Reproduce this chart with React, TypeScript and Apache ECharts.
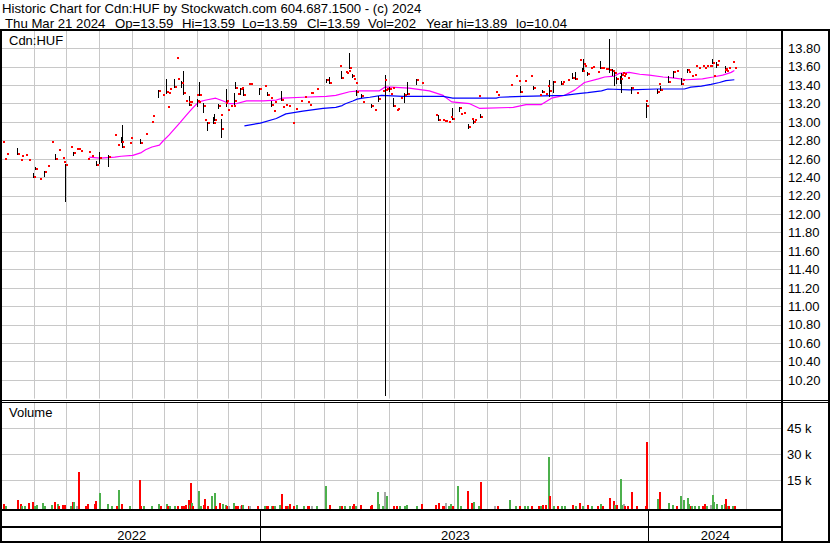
import React, { useEffect, useRef } from "react";
import * as echarts from "echarts";

// ---------------- data ----------------
const titleLine = "Historic Chart for Cdn:HUF by Stockwatch.com 604.687.1500 - (c) 2024";
const quoteItems = ["Thu Mar 21 2024", "Op=13.59", "Hi=13.59", "Lo=13.59", "Cl=13.59", "Vol=202", "Year hi=13.89", "lo=10.04"];
const symbolLabel = "Cdn:HUF";
const volumeLabel = "Volume";

const priceMin = 10;
const priceMax = 14;
const priceStep = 0.2;
const volMax = 60000;
const volStep = 15000;

const axisStart = "2022-05-01T21:36:00Z";
const axisEnd = "2024-05-03T21:36:00Z";

const monthLines = [
  "2022-06-01", "2022-07-01", "2022-08-01", "2022-09-01", "2022-10-01", "2022-11-01", "2022-12-01",
  "2023-01-01", "2023-02-01", "2023-03-01", "2023-04-01", "2023-05-01", "2023-06-01", "2023-07-01",
  "2023-08-01", "2023-09-01", "2023-10-01", "2023-11-01", "2023-12-01", "2024-01-01", "2024-02-01",
  "2024-03-01", "2024-04-01",
];

const yearSpans: [string, string, string][] = [
  ["2022", "2022-01-01", "2023-01-01"],
  ["2023", "2023-01-01", "2024-01-01"],
  ["2024", "2024-01-01", "2025-01-01"],
];

// close of each trading day
const closePrices: [string, number][] = [
  ["2022-05-02", 12.78], ["2022-05-04", 12.6], ["2022-05-06", 12.65], ["2022-05-16", 12.65], ["2022-05-19", 12.59],
  ["2022-05-20", 12.63], ["2022-05-24", 12.64], ["2022-05-26", 12.59], ["2022-05-31", 12.41], ["2022-06-02", 12.49],
  ["2022-06-06", 12.38], ["2022-06-10", 12.46], ["2022-06-13", 12.52], ["2022-06-17", 12.78], ["2022-06-21", 12.6],
  ["2022-06-24", 12.7], ["2022-06-27", 12.61], ["2022-06-28", 12.57], ["2022-06-30", 12.53], ["2022-07-05", 12.73],
  ["2022-07-08", 12.67], ["2022-07-11", 12.71], ["2022-07-12", 12.71], ["2022-07-14", 12.69], ["2022-07-21", 12.6],
  ["2022-07-22", 12.68], ["2022-07-25", 12.63], ["2022-07-29", 12.53], ["2022-08-01", 12.61], ["2022-08-10", 12.62],
  ["2022-08-15", 12.86], ["2022-08-18", 12.75], ["2022-08-22", 12.78], ["2022-08-23", 12.73], ["2022-08-29", 12.77],
  ["2022-08-30", 12.83], ["2022-09-09", 12.77], ["2022-09-13", 12.87], ["2022-09-19", 13.0], ["2022-09-20", 13.07],
  ["2022-09-26", 13.34], ["2022-09-29", 13.3], ["2022-10-03", 13.33], ["2022-10-04", 13.16], ["2022-10-05", 13.32],
  ["2022-10-06", 13.36], ["2022-10-11", 13.38], ["2022-10-13", 13.7], ["2022-10-14", 13.47], ["2022-10-17", 13.42],
  ["2022-10-19", 13.32], ["2022-10-21", 13.23], ["2022-10-24", 13.22], ["2022-10-25", 13.19], ["2022-10-26", 13.22],
  ["2022-10-31", 13.29], ["2022-11-01", 13.23], ["2022-11-02", 13.22], ["2022-11-03", 13.3], ["2022-11-07", 13.17],
  ["2022-11-08", 13.02], ["2022-11-11", 12.99], ["2022-11-16", 12.99], ["2022-11-17", 13.02], ["2022-11-21", 13.18],
  ["2022-11-23", 13.08], ["2022-11-24", 12.93], ["2022-11-28", 13.21], ["2022-11-29", 13.23], ["2022-11-30", 13.13],
  ["2022-12-02", 13.17], ["2022-12-05", 13.17], ["2022-12-06", 13.23], ["2022-12-07", 13.37], ["2022-12-09", 13.31],
  ["2022-12-12", 13.36], ["2022-12-13", 13.37], ["2022-12-15", 13.3], ["2022-12-19", 13.41], ["2022-12-21", 13.41],
  ["2022-12-30", 13.36],
  ["2023-01-03", 13.39], ["2023-01-06", 13.29], ["2023-01-09", 13.26], ["2023-01-10", 13.19], ["2023-01-12", 13.12],
  ["2023-01-13", 13.22], ["2023-01-19", 13.24], ["2023-01-20", 13.16], ["2023-01-23", 13.19], ["2023-01-26", 13.18],
  ["2023-01-30", 12.99], ["2023-02-02", 13.14], ["2023-02-06", 13.23], ["2023-02-10", 13.27], ["2023-02-13", 13.22],
  ["2023-02-15", 13.19], ["2023-02-16", 13.32], ["2023-02-17", 13.32], ["2023-02-21", 13.36], ["2023-03-03", 13.46],
  ["2023-03-06", 13.43], ["2023-03-15", 13.61], ["2023-03-17", 13.48], ["2023-03-21", 13.54], ["2023-03-22", 13.53],
  ["2023-03-23", 13.56], ["2023-03-24", 13.59], ["2023-03-27", 13.5], ["2023-03-28", 13.47], ["2023-03-30", 13.42],
  ["2023-03-31", 13.33], ["2023-04-05", 13.28], ["2023-04-06", 13.22], ["2023-04-14", 13.18], ["2023-04-17", 13.13],
  ["2023-04-21", 13.25], ["2023-04-24", 13.34], ["2023-04-26", 13.46], ["2023-04-27", 13.35], ["2023-04-28", 13.36],
  ["2023-05-01", 13.36], ["2023-05-02", 13.31], ["2023-05-04", 13.37], ["2023-05-05", 13.17], ["2023-05-08", 13.13],
  ["2023-05-09", 13.14], ["2023-05-11", 13.26], ["2023-05-15", 13.29], ["2023-05-18", 13.31], ["2023-05-26", 13.46],
  ["2023-05-31", 13.43], ["2023-06-13", 13.08], ["2023-06-16", 13.02], ["2023-06-20", 13.02], ["2023-06-22", 13.01],
  ["2023-06-23", 13.01], ["2023-06-26", 13.0], ["2023-06-27", 13.06], ["2023-06-29", 13.03], ["2023-07-06", 13.15],
  ["2023-07-07", 13.09], ["2023-07-10", 13.1], ["2023-07-14", 12.95], ["2023-07-17", 13.03], ["2023-07-19", 13.0],
  ["2023-07-20", 13.02], ["2023-07-24", 13.28], ["2023-07-26", 13.06], ["2023-08-09", 13.33], ["2023-08-11", 13.29],
  ["2023-08-23", 13.4], ["2023-08-28", 13.5], ["2023-08-30", 13.45], ["2023-09-01", 13.33], ["2023-09-05", 13.45],
  ["2023-09-11", 13.5], ["2023-09-14", 13.37], ["2023-09-19", 13.3], ["2023-09-22", 13.33], ["2023-09-25", 13.31],
  ["2023-09-27", 13.39], ["2023-09-29", 13.34], ["2023-10-02", 13.44], ["2023-10-10", 13.41], ["2023-10-11", 13.44],
  ["2023-10-16", 13.46], ["2023-10-20", 13.48], ["2023-10-23", 13.47], ["2023-10-27", 13.67], ["2023-10-30", 13.56],
  ["2023-10-31", 13.63], ["2023-11-01", 13.61], ["2023-11-03", 13.52], ["2023-11-06", 13.59], ["2023-11-08", 13.6],
  ["2023-11-13", 13.54], ["2023-11-16", 13.59], ["2023-11-17", 13.59], ["2023-11-20", 13.58], ["2023-11-21", 13.58],
  ["2023-11-24", 13.57], ["2023-11-27", 13.55], ["2023-11-29", 13.53], ["2023-12-01", 13.47], ["2023-12-04", 13.47],
  ["2023-12-05", 13.51], ["2023-12-06", 13.53], ["2023-12-07", 13.5], ["2023-12-08", 13.52], ["2023-12-11", 13.48],
  ["2023-12-15", 13.37], ["2023-12-19", 13.32], ["2023-12-28", 13.23], ["2023-12-29", 13.18],
  ["2024-01-08", 13.33], ["2024-01-09", 13.41], ["2024-01-11", 13.35], ["2024-01-19", 13.44], ["2024-01-23", 13.54],
  ["2024-01-26", 13.55], ["2024-01-31", 13.41], ["2024-02-01", 13.46], ["2024-02-05", 13.57], ["2024-02-06", 13.54],
  ["2024-02-09", 13.5], ["2024-02-12", 13.51], ["2024-02-13", 13.61], ["2024-02-16", 13.59], ["2024-02-20", 13.61],
  ["2024-02-21", 13.59], ["2024-02-23", 13.61], ["2024-02-26", 13.61], ["2024-02-27", 13.61], ["2024-02-29", 13.64],
  ["2024-03-01", 13.5], ["2024-03-04", 13.62], ["2024-03-05", 13.66], ["2024-03-11", 13.57], ["2024-03-12", 13.58],
  ["2024-03-13", 13.55], ["2024-03-15", 13.59], ["2024-03-19", 13.65], ["2024-03-21", 13.59],
];

// high / low of the days that traded at more than one price
const tradingRanges: [string, number, number][] = [
  ["2022-05-16", 12.71, 12.65], ["2022-05-31", 12.44, 12.4], ["2022-06-02", 12.5, 12.49], ["2022-06-10", 12.46, 12.42],
  ["2022-06-21", 12.64, 12.6], ["2022-06-30", 12.54, 12.14], ["2022-07-08", 12.67, 12.64], ["2022-07-29", 12.57, 12.53],
  ["2022-08-01", 12.66, 12.56], ["2022-08-10", 12.63, 12.52], ["2022-08-22", 12.83, 12.78], ["2022-08-23", 12.96, 12.73],
  ["2022-09-09", 12.81, 12.77], ["2022-09-26", 13.34, 13.27], ["2022-10-03", 13.46, 13.32], ["2022-10-11", 13.46, 13.38],
  ["2022-10-17", 13.44, 13.38], ["2022-10-19", 13.54, 13.31], ["2022-10-25", 13.27, 13.19], ["2022-11-01", 13.24, 13.18],
  ["2022-11-03", 13.43, 13.29], ["2022-11-07", 13.2, 13.11], ["2022-11-11", 12.99, 12.92], ["2022-11-16", 13.04, 12.99],
  ["2022-11-17", 13.08, 13.02], ["2022-11-21", 13.19, 13.15], ["2022-11-24", 13.02, 12.84], ["2022-11-29", 13.35, 13.17],
  ["2022-12-06", 13.31, 13.2], ["2022-12-07", 13.43, 13.37], ["2022-12-12", 13.36, 13.31], ["2022-12-15", 13.37, 13.29],
  ["2022-12-30", 13.36, 13.31], ["2023-01-06", 13.32, 13.29], ["2023-01-10", 13.22, 13.17], ["2023-01-19", 13.33, 13.24],
  ["2023-03-03", 13.46, 13.44], ["2023-03-06", 13.48, 13.42], ["2023-03-17", 13.54, 13.48], ["2023-03-24", 13.74, 13.59],
  ["2023-03-27", 13.51, 13.49], ["2023-03-31", 13.34, 13.29], ["2023-04-05", 13.29, 13.27], ["2023-04-14", 13.19, 13.16],
  ["2023-04-21", 13.27, 13.23], ["2023-04-27", 13.5, 10.04], ["2023-05-01", 13.37, 13.34], ["2023-05-05", 13.25, 13.17],
  ["2023-05-15", 13.31, 13.22], ["2023-05-18", 13.42, 13.31], ["2023-05-26", 13.46, 13.41], ["2023-06-16", 13.07, 13.02],
  ["2023-06-29", 13.14, 13.03], ["2023-07-06", 13.15, 13.12], ["2023-07-14", 12.97, 12.94], ["2023-07-19", 13.03, 12.99],
  ["2023-07-26", 13.08, 13.06], ["2023-09-01", 13.38, 13.33], ["2023-09-14", 13.38, 13.36], ["2023-09-22", 13.34, 13.33],
  ["2023-09-29", 13.45, 13.28], ["2023-10-02", 13.44, 13.33], ["2023-10-10", 13.44, 13.41], ["2023-10-20", 13.52, 13.48],
  ["2023-10-23", 13.53, 13.47], ["2023-10-30", 13.58, 13.56], ["2023-10-31", 13.67, 13.58], ["2023-11-03", 13.53, 13.51],
  ["2023-11-16", 13.65, 13.59], ["2023-11-24", 13.89, 13.54], ["2023-11-27", 13.57, 13.51], ["2023-11-29", 13.54, 13.4],
  ["2023-12-01", 13.48, 13.43], ["2023-12-04", 13.49, 13.42], ["2023-12-05", 13.52, 13.33], ["2023-12-15", 13.37, 13.32],
  ["2023-12-29", 13.2, 13.06], ["2024-01-08", 13.35, 13.32], ["2024-01-11", 13.38, 13.35], ["2024-01-19", 13.49, 13.44],
  ["2024-01-23", 13.54, 13.49], ["2024-01-31", 13.47, 13.41], ["2024-02-05", 13.57, 13.54], ["2024-02-29", 13.67, 13.64],
  ["2024-03-04", 13.64, 13.6], ["2024-03-12", 13.6, 13.54],
];

// short moving average (magenta)
const maShort: [string, number][] = [
  ["2022-07-23", 12.62], ["2022-08-02", 12.61], ["2022-08-16", 12.62], ["2022-08-22", 12.63], ["2022-09-02", 12.64],
  ["2022-09-10", 12.67], ["2022-09-14", 12.7], ["2022-09-20", 12.73], ["2022-09-27", 12.75], ["2022-09-30", 12.79],
  ["2022-10-06", 12.86], ["2022-10-16", 12.99], ["2022-10-22", 13.07], ["2022-10-28", 13.15], ["2022-11-03", 13.22],
  ["2022-11-10", 13.24], ["2022-11-19", 13.26], ["2022-11-26", 13.23], ["2022-12-02", 13.2], ["2022-12-08", 13.2],
  ["2022-12-18", 13.23], ["2023-01-03", 13.23], ["2023-01-15", 13.24], ["2023-01-21", 13.26], ["2023-02-09", 13.27],
  ["2023-03-03", 13.28], ["2023-03-12", 13.29], ["2023-03-25", 13.33], ["2023-04-03", 13.34], ["2023-04-22", 13.34],
  ["2023-04-27", 13.38], ["2023-05-03", 13.38], ["2023-05-20", 13.37], ["2023-06-08", 13.34], ["2023-06-21", 13.29],
  ["2023-06-29", 13.22], ["2023-07-16", 13.2], ["2023-07-25", 13.15], ["2023-08-26", 13.16], ["2023-09-07", 13.19],
  ["2023-09-21", 13.19], ["2023-10-01", 13.26], ["2023-10-13", 13.29], ["2023-10-23", 13.35], ["2023-11-01", 13.43],
  ["2023-11-14", 13.47], ["2023-11-20", 13.49], ["2023-11-29", 13.5], ["2023-12-04", 13.53], ["2023-12-13", 13.54],
  ["2023-12-23", 13.52], ["2024-01-01", 13.51], ["2024-01-14", 13.49], ["2024-01-23", 13.48], ["2024-02-05", 13.46],
  ["2024-02-20", 13.47], ["2024-03-01", 13.49], ["2024-03-10", 13.51], ["2024-03-18", 13.54], ["2024-03-21", 13.56],
];

// long moving average (blue)
const maLong: [string, number][] = [
  ["2022-12-16", 12.96], ["2022-12-31", 12.99], ["2023-01-15", 13.04], ["2023-01-24", 13.09], ["2023-02-09", 13.12],
  ["2023-02-28", 13.15], ["2023-03-12", 13.16], ["2023-03-18", 13.18], ["2023-03-21", 13.2], ["2023-03-28", 13.23],
  ["2023-04-01", 13.25], ["2023-04-06", 13.26], ["2023-04-13", 13.27], ["2023-04-24", 13.29], ["2023-05-14", 13.28],
  ["2023-06-21", 13.28], ["2023-06-30", 13.26], ["2023-08-10", 13.26], ["2023-08-13", 13.27], ["2023-09-04", 13.28],
  ["2023-10-13", 13.29], ["2023-10-26", 13.31], ["2023-11-04", 13.32], ["2023-11-17", 13.34], ["2023-11-23", 13.36],
  ["2023-12-13", 13.35], ["2024-01-08", 13.36], ["2024-02-03", 13.36], ["2024-02-09", 13.38], ["2024-02-19", 13.39],
  ["2024-02-28", 13.41], ["2024-03-07", 13.43], ["2024-03-13", 13.45], ["2024-03-21", 13.46],
];

// daily volume: u = up day, d = down day, n = unchanged
const volumeBars: [string, number, string][] = [
  ["2022-05-03", 1300, "d"], ["2022-05-05", 200, "u"], ["2022-05-16", 3600, "d"], ["2022-05-19", 1300, "d"],
  ["2022-05-20", 200, "u"], ["2022-05-23", 200, "u"], ["2022-05-26", 2100, "d"], ["2022-05-30", 2500, "d"],
  ["2022-06-01", 300, "u"], ["2022-06-03", 600, "u"], ["2022-06-09", 1900, "u"], ["2022-06-10", 300, "u"],
  ["2022-06-17", 1000, "u"], ["2022-06-20", 2700, "d"], ["2022-06-23", 1300, "u"], ["2022-06-24", 300, "d"],
  ["2022-06-27", 1000, "d"], ["2022-06-29", 1000, "d"], ["2022-07-05", 200, "u"], ["2022-07-07", 2500, "d"],
  ["2022-07-08", 2500, "u"], ["2022-07-11", 300, "n"], ["2022-07-12", 19800, "d"], ["2022-07-19", 300, "d"],
  ["2022-07-21", 1300, "d"], ["2022-07-27", 1300, "d"], ["2022-07-28", 3000, "d"], ["2022-08-01", 7700, "u"],
  ["2022-08-09", 1500, "u"], ["2022-08-12", 200, "u"], ["2022-08-17", 200, "d"], ["2022-08-19", 9400, "u"],
  ["2022-08-22", 1300, "d"], ["2022-08-29", 300, "u"], ["2022-09-08", 15200, "d"], ["2022-09-09", 400, "d"],
  ["2022-09-12", 300, "u"], ["2022-09-19", 200, "u"], ["2022-09-26", 1300, "u"], ["2022-09-28", 200, "d"],
  ["2022-10-03", 1500, "u"], ["2022-10-04", 200, "d"], ["2022-10-06", 300, "u"], ["2022-10-11", 300, "u"],
  ["2022-10-14", 200, "d"], ["2022-10-17", 200, "d"], ["2022-10-18", 300, "d"], ["2022-10-20", 400, "d"],
  ["2022-10-21", 800, "d"], ["2022-10-24", 3600, "d"], ["2022-10-25", 800, "u"], ["2022-10-26", 13400, "d"],
  ["2022-10-27", 1900, "u"], ["2022-10-28", 400, "d"], ["2022-11-02", 8800, "u"], ["2022-11-04", 300, "u"],
  ["2022-11-07", 800, "d"], ["2022-11-08", 4200, "d"], ["2022-11-11", 300, "d"], ["2022-11-15", 5900, "u"],
  ["2022-11-17", 7700, "u"], ["2022-11-18", 400, "d"], ["2022-11-22", 1900, "d"], ["2022-11-25", 1300, "u"],
  ["2022-11-28", 800, "u"], ["2022-11-29", 400, "d"], ["2022-12-01", 300, "n"], ["2022-12-05", 1900, "u"],
  ["2022-12-06", 400, "u"], ["2022-12-07", 400, "d"], ["2022-12-09", 400, "d"], ["2022-12-12", 300, "n"],
  ["2022-12-13", 800, "d"], ["2022-12-14", 800, "u"], ["2022-12-19", 400, "d"], ["2022-12-20", 200, "n"],
  ["2022-12-28", 200, "d"], ["2023-01-03", 200, "u"], ["2023-01-05", 300, "d"], ["2023-01-06", 300, "d"],
  ["2023-01-10", 300, "u"], ["2023-01-11", 200, "d"], ["2023-01-13", 200, "u"], ["2023-01-18", 800, "u"],
  ["2023-01-19", 7100, "d"], ["2023-01-23", 400, "d"], ["2023-01-24", 400, "d"], ["2023-01-26", 300, "u"],
  ["2023-01-27", 1300, "d"], ["2023-01-31", 200, "d"], ["2023-02-03", 800, "u"], ["2023-02-09", 200, "u"],
  ["2023-02-13", 200, "d"], ["2023-02-14", 200, "d"], ["2023-02-17", 200, "n"], ["2023-02-21", 200, "u"],
  ["2023-03-02", 11700, "u"], ["2023-03-06", 800, "d"], ["2023-03-15", 400, "u"], ["2023-03-17", 300, "d"],
  ["2023-03-20", 400, "u"], ["2023-03-24", 300, "u"], ["2023-03-27", 300, "d"], ["2023-03-28", 1300, "d"],
  ["2023-03-30", 200, "u"], ["2023-04-04", 800, "d"], ["2023-04-13", 300, "d"], ["2023-04-14", 800, "d"],
  ["2023-04-20", 8200, "u"], ["2023-04-21", 1300, "u"], ["2023-04-24", 200, "u"], ["2023-04-26", 8200, "n"],
  ["2023-04-28", 5900, "u"], ["2023-05-05", 300, "d"], ["2023-05-08", 200, "d"], ["2023-05-10", 200, "u"],
  ["2023-05-15", 300, "u"], ["2023-05-17", 800, "u"], ["2023-05-26", 400, "u"], ["2023-05-31", 1300, "d"],
  ["2023-06-13", 800, "d"], ["2023-06-16", 1900, "d"], ["2023-06-20", 200, "d"], ["2023-06-22", 300, "d"],
  ["2023-06-23", 1900, "n"], ["2023-06-26", 300, "u"], ["2023-06-27", 1300, "u"], ["2023-06-29", 400, "d"],
  ["2023-07-04", 11700, "u"], ["2023-07-07", 200, "u"], ["2023-07-13", 8800, "d"], ["2023-07-17", 1900, "d"],
  ["2023-07-19", 2500, "u"], ["2023-07-24", 200, "u"], ["2023-07-26", 14000, "d"], ["2023-08-08", 200, "n"],
  ["2023-08-11", 400, "d"], ["2023-08-22", 3600, "u"], ["2023-08-28", 300, "u"], ["2023-08-31", 300, "d"],
  ["2023-09-05", 200, "u"], ["2023-09-08", 200, "u"], ["2023-09-12", 300, "d"], ["2023-09-18", 200, "d"],
  ["2023-09-20", 300, "u"], ["2023-09-22", 600, "d"], ["2023-09-25", 1000, "d"], ["2023-09-28", 28500, "u"],
  ["2023-09-29", 5900, "d"], ["2023-10-02", 300, "u"], ["2023-10-06", 300, "d"], ["2023-10-10", 300, "u"],
  ["2023-10-13", 300, "u"], ["2023-10-20", 600, "d"], ["2023-10-23", 300, "u"], ["2023-10-27", 1900, "d"],
  ["2023-10-30", 300, "u"], ["2023-11-03", 600, "d"], ["2023-11-07", 300, "u"], ["2023-11-13", 200, "d"],
  ["2023-11-16", 1300, "u"], ["2023-11-17", 200, "d"], ["2023-11-24", 4800, "d"], ["2023-11-28", 3000, "d"],
  ["2023-11-29", 1000, "u"], ["2023-12-01", 1000, "d"], ["2023-12-04", 15800, "u"], ["2023-12-05", 1000, "u"],
  ["2023-12-07", 1300, "n"], ["2023-12-08", 200, "d"], ["2023-12-11", 200, "d"], ["2023-12-15", 8200, "d"],
  ["2023-12-19", 300, "d"], ["2023-12-28", 300, "d"], ["2023-12-29", 37000, "d"], ["2024-01-08", 4200, "u"],
  ["2024-01-10", 8200, "d"], ["2024-01-19", 1900, "u"], ["2024-01-22", 1000, "u"], ["2024-01-26", 300, "d"],
  ["2024-01-30", 5900, "u"], ["2024-02-02", 3600, "u"], ["2024-02-05", 4800, "u"], ["2024-02-06", 1300, "u"],
  ["2024-02-08", 300, "d"], ["2024-02-09", 200, "u"], ["2024-02-12", 200, "u"], ["2024-02-16", 300, "u"],
  ["2024-02-20", 200, "d"], ["2024-02-21", 1300, "d"], ["2024-02-23", 300, "u"], ["2024-02-27", 1000, "n"],
  ["2024-02-29", 6500, "u"], ["2024-03-01", 2500, "u"], ["2024-03-04", 1300, "u"], ["2024-03-08", 1000, "u"],
  ["2024-03-11", 1300, "u"], ["2024-03-12", 4200, "d"], ["2024-03-14", 200, "u"], ["2024-03-15", 200, "d"],
  ["2024-03-19", 200, "u"], ["2024-03-21", 202, "d"],
];

// ---------------- styling ----------------
const FONT = '"Liberation Sans", Arial, Helvetica, sans-serif';
const GRID_GRAY = "#c8c8c8";
const RED = "#ff0000";
const GREEN = "#4cb04c";
const GRAY = "#a8a8a8";
const quoteX = [5, 115, 182, 242, 307, 368, 426, 516];

const ts = (s: string) => Date.parse(s.length === 10 ? s + "T00:00:00Z" : s);
const AXIS_MIN = ts(axisStart);
const AXIS_MAX = ts(axisEnd);

function makeGridLineRender(extraBottom: number) {
  return (params: any, api: any) => {
    const cs = params.coordSys;
    const x = Math.round(api.coord([api.value(0), api.value(1)])[0]) + 0.5;
    return {
      type: "line",
      shape: { x1: x, y1: cs.y, x2: x, y2: cs.y + cs.height + extraBottom },
      style: { stroke: GRID_GRAY, lineWidth: 1 },
    };
  };
}

function rectEl(x: number, y: number, w: number, h: number) {
  return { type: "rect", z: 100, silent: true, shape: { x, y, width: w, height: h }, style: { fill: "#000" } };
}

function textEl(text: string, x: number, y: number, size = 13) {
  return {
    type: "text",
    z: 101,
    silent: true,
    x,
    y,
    style: { text, font: `${size}px ${FONT}`, fill: "#000", align: "left", verticalAlign: "middle" },
  };
}

export default function App() {
  const ref = useRef<HTMLDivElement>(null);

  useEffect(() => {
    const chart = echarts.init(ref.current!, null, { renderer: "svg" });

    const timeAxis = (gridIndex: number) => ({
      type: "time",
      gridIndex,
      min: AXIS_MIN,
      max: AXIS_MAX,
      show: false,
    });

    const option: any = {
      animation: false,
      useUTC: true,
      backgroundColor: "#ffffff",
      grid: [
        { left: 2, top: 30, width: 779, height: 368.6 },
        { left: 2, top: 402.3, width: 779, height: 104 },
        { left: 2, top: 511, width: 779, height: 30 },
      ],
      xAxis: [timeAxis(0), timeAxis(1), timeAxis(2)],
      yAxis: [
        {
          type: "value",
          gridIndex: 0,
          position: "right",
          min: priceMin,
          max: priceMax,
          interval: priceStep,
          axisLine: { show: false },
          axisTick: { show: false },
          axisLabel: {
            margin: 7,
            fontSize: 13,
            fontFamily: FONT,
            color: "#000",
            showMinLabel: false,
            showMaxLabel: false,
            formatter: (v: number) => v.toFixed(2),
          },
          splitLine: { show: true, showMinLine: false, showMaxLine: false, lineStyle: { color: GRID_GRAY, width: 1 } },
        },
        {
          type: "value",
          gridIndex: 1,
          position: "right",
          min: 0,
          max: volMax,
          interval: volStep,
          axisLine: { show: false },
          axisTick: { show: false },
          axisLabel: {
            margin: 6,
            fontSize: 13,
            fontFamily: FONT,
            color: "#000",
            showMinLabel: false,
            showMaxLabel: false,
            formatter: (v: number) => `${Math.round(v / 1000)} k`,
          },
          splitLine: { show: true, showMinLine: false, showMaxLine: false, lineStyle: { color: GRID_GRAY, width: 1 } },
        },
        { type: "value", gridIndex: 2, min: 0, max: 1, show: false },
      ],
      series: [
        {
          type: "custom",
          name: "priceMonths",
          xAxisIndex: 0,
          yAxisIndex: 0,
          z: 1,
          silent: true,
          data: monthLines.map((d) => [ts(d), priceMin]),
          renderItem: makeGridLineRender(0),
        },
        {
          type: "custom",
          name: "volumeMonths",
          xAxisIndex: 1,
          yAxisIndex: 1,
          z: 1,
          silent: true,
          data: monthLines.map((d) => [ts(d), 0]),
          renderItem: makeGridLineRender(3),
        },
        {
          type: "line",
          name: "maShort",
          xAxisIndex: 0,
          yAxisIndex: 0,
          z: 2,
          silent: true,
          symbol: "none",
          showSymbol: false,
          data: maShort.map(([d, v]) => [ts(d), v]),
          lineStyle: { color: "#ff00ff", width: 1.2 },
        },
        {
          type: "line",
          name: "maLong",
          xAxisIndex: 0,
          yAxisIndex: 0,
          z: 2,
          silent: true,
          symbol: "none",
          showSymbol: false,
          data: maLong.map(([d, v]) => [ts(d), v]),
          lineStyle: { color: "#0000ff", width: 1.2 },
        },
        {
          type: "custom",
          name: "ranges",
          xAxisIndex: 0,
          yAxisIndex: 0,
          z: 3,
          silent: true,
          data: tradingRanges.map(([d, h, l]) => [ts(d), h, l]),
          renderItem: (params: any, api: any) => {
            const top = api.coord([api.value(0), api.value(1)]);
            const bot = api.coord([api.value(0), api.value(2)]);
            const x = Math.round(top[0]);
            const y1 = Math.round(top[1]) - 1;
            const y2 = Math.round(bot[1]) + 1;
            return { type: "rect", shape: { x, y: y1, width: 1, height: y2 - y1 }, style: { fill: "#000" } };
          },
        },
        {
          type: "custom",
          name: "closes",
          xAxisIndex: 0,
          yAxisIndex: 0,
          z: 4,
          silent: true,
          data: closePrices.map(([d, c]) => [ts(d), c]),
          renderItem: (params: any, api: any) => {
            const p = api.coord([api.value(0), api.value(1)]);
            const x = Math.round(p[0]);
            const y = Math.round(p[1]);
            return { type: "rect", shape: { x: x + 1, y: y - 1, width: 2, height: 2 }, style: { fill: RED } };
          },
        },
        {
          type: "custom",
          name: "volume",
          xAxisIndex: 1,
          yAxisIndex: 1,
          z: 3,
          silent: true,
          data: volumeBars.map(([d, v]) => [ts(d), v]),
          renderItem: (params: any, api: any) => {
            const dir = volumeBars[params.dataIndex][2];
            const p = api.coord([api.value(0), api.value(1)]);
            const base = api.coord([api.value(0), 0])[1] + 3;
            const x = Math.round(p[0]);
            const yTop = Math.round(p[1]);
            return {
              type: "rect",
              shape: { x, y: yTop, width: 2, height: base - yTop },
              style: { fill: dir === "u" ? GREEN : dir === "d" ? RED : GRAY },
            };
          },
        },
        {
          type: "custom",
          name: "years",
          xAxisIndex: 2,
          yAxisIndex: 2,
          z: 5,
          silent: true,
          data: yearSpans.map(([, s, e]) => [ts(s), ts(e)]),
          renderItem: (params: any, api: any) => {
            const cs = params.coordSys;
            const start = api.value(0);
            const end = api.value(1);
            const s = Math.max(start, AXIS_MIN);
            const e = Math.min(end, AXIS_MAX);
            const xs = api.coord([s, 0])[0];
            const xe = api.coord([e, 0])[0];
            const children: any[] = [
              {
                type: "text",
                x: (xs + xe) / 2,
                y: cs.y + cs.height - 6,
                style: {
                  text: yearSpans[params.dataIndex][0],
                  font: `13px ${FONT}`,
                  fill: "#000",
                  align: "center",
                  verticalAlign: "middle",
                },
              },
            ];
            if (start > AXIS_MIN) {
              children.push({
                type: "rect",
                shape: { x: Math.round(xs) - 1, y: cs.y, width: 1, height: cs.height },
                style: { fill: "#000" },
              });
            }
            return { type: "group", children };
          },
        },
      ],
      graphic: [
        textEl(titleLine, 2, 8.7, 13.2),
        ...quoteItems.map((q, i) => textEl(q, quoteX[i], 23.5, 13.2)),
        textEl(symbolLabel, 9, 40.5),
        textEl(volumeLabel, 9, 412.7),
        rectEl(0, 29, 830, 2),
        rectEl(0, 29, 2, 514),
        rectEl(781, 29, 2, 514),
        rectEl(828, 29, 2, 514),
        rectEl(0, 400, 830, 1),
        rectEl(0, 402, 830, 1),
        rectEl(0, 509, 783, 2),
        rectEl(0, 526, 783, 2),
        rectEl(0, 541, 830, 2),
      ],
    };

    chart.setOption(option);
    return () => chart.dispose();
  }, []);

  return (
    <div
      ref={ref}
      style={{ position: "absolute", left: 0, top: 0, width: 830, height: 543, background: "#fff" }}
    />
  );
}
